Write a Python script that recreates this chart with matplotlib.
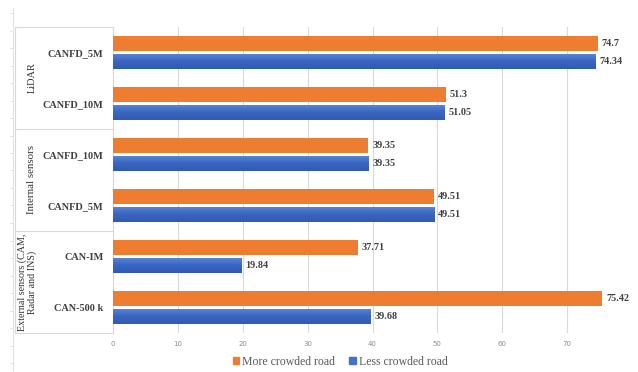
import matplotlib
matplotlib.use("Agg")
import matplotlib.pyplot as plt
import numpy as np
from matplotlib.lines import Line2D
from matplotlib.colors import LinearSegmentedColormap

# datos
categorias = ["CANFD_5M", "CANFD_10M", "CANFD_10M", "CANFD_5M", "CAN-IM", "CAN-500 k"]
mas_congestion = [74.7, 51.3, 39.35, 49.51, 37.71, 75.42]
menos_congestion = [74.34, 51.05, 39.35, 49.51, 19.84, 39.68]
grupos = ["LiDAR", "Internal sensors", "External sensors (CAM,\nRadar and INS)"]
ticks_x = [0, 10, 20, 30, 40, 50, 60, 70]

naranja = "#ED7D31"
azul = "#4472C4"
gris_texto = "#404040"
serif = "Liberation Serif"

fig = plt.figure(figsize=(6.38, 3.72), dpi=100)
W, H = 638, 372
ax = fig.add_axes([113 / W, 1 - 333 / H, (632 - 113) / W, (333 - 27) / H])

y = np.arange(len(categorias))
alto = 0.31
desp = 0.175

b1 = ax.barh(y - desp, mas_congestion, height=alto, color=naranja, zorder=3)
b2 = ax.barh(y + desp, menos_congestion, height=alto, color=azul, zorder=3)

# degradado en las barras azules
grad = np.linspace(0, 1, 50).reshape(-1, 1)
cmap_azul = LinearSegmentedColormap.from_list("az", ["#5A88D8", "#3A66C0", "#2F5BB5"])
for barra in b2:
    x0, y0 = barra.get_x(), barra.get_y()
    w, h = barra.get_width(), barra.get_height()
    im = ax.imshow(grad, cmap=cmap_azul, aspect="auto", extent=[x0, x0 + w, y0 + h, y0],
                   zorder=4)
    im.set_clip_path(barra)

for barras, valores in [(b1, mas_congestion), (b2, menos_congestion)]:
    for barra, v in zip(barras, valores):
        ax.text(v + 0.6, barra.get_y() + barra.get_height() / 2, f"{v:g}", va="center",
                ha="left", fontsize=7.3, fontweight="bold", family=serif, color=gris_texto,
                clip_on=False)

ax.set_xlim(0, 80)
ax.set_ylim(5.5, -0.5)
ax.set_xticks(ticks_x)
ax.set_xticklabels([str(t) for t in ticks_x])
ax.tick_params(axis="x", length=0, labelsize=5, colors="#8c8c8c", pad=6)
ax.set_yticks(y)
ax.set_yticklabels(categorias, fontsize=7.4, fontweight="bold", family=serif, color=gris_texto)
ax.tick_params(axis="y", length=0, pad=7)
ax.grid(axis="x", color="#d9d9d9", linewidth=0.8, zorder=0)
for s in ["top", "right", "bottom"]:
    ax.spines[s].set_visible(False)
ax.spines["left"].set_color("#d9d9d9")

# cajas de los grupos
tr = ax.get_yaxis_transform()
xi = (15 - 113) / (632 - 113)
for yl in [-0.5, 1.5, 3.5, 5.5]:
    ax.add_line(Line2D([xi, 0], [yl, yl], transform=tr, color="#d9d9d9", lw=0.8, clip_on=False))
ax.add_line(Line2D([xi, xi], [-0.5, 5.5], transform=tr, color="#d9d9d9", lw=0.8, clip_on=False))

tam_grupo = [7.5, 7.8, 7.2]
x_grupo = [32, 31, 27]
for i, g in enumerate(grupos):
    ax.text((x_grupo[i] - 113) / (632 - 113), 2 * i + 0.5, g, transform=tr, rotation=90,
            ha="center", va="center", fontsize=tam_grupo[i], family=serif, color="#333333",
            linespacing=1.0, multialignment="center")

# linea tenue del borde izquierdo
fig.add_artist(Line2D([13 / W, 13 / W], [1 - 8 / H, 1 - 370 / H], color="#e0e0e0", lw=0.7))
for py in np.arange(13, 370, 17.5):
    fig.add_artist(Line2D([10 / W, 13 / W], [1 - py / H, 1 - py / H], color="#e0e0e0", lw=0.6))

# leyenda
manijas = [plt.Rectangle((0, 0), 1, 1, color=naranja), plt.Rectangle((0, 0), 1, 1, color=azul)]
fig.legend(manijas, ["More crowded road", "Less crowded road"], loc="center",
           bbox_to_anchor=(340 / W, 1 - 362 / H), ncol=2, frameon=False,
           prop={"family": serif, "size": 8.5}, labelcolor="#595959",
           handlelength=0.55, handleheight=0.55, handletextpad=0.25, columnspacing=1.2)

fig.savefig("out.png", dpi=100)
